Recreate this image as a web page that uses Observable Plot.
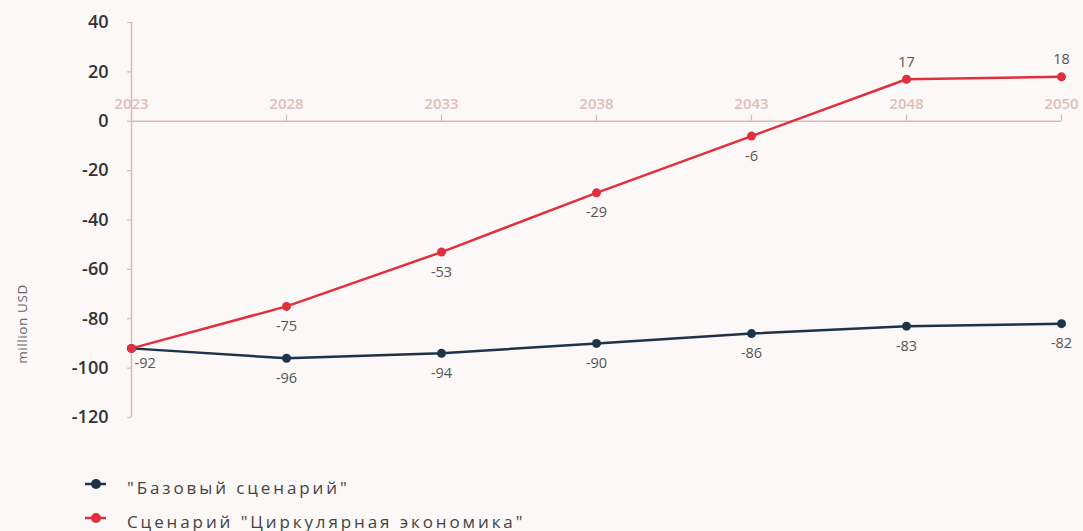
<!DOCTYPE html>
<html>
<head>
<meta charset="utf-8">
<script src="https://cdn.jsdelivr.net/npm/d3@7"></script>
<script src="https://cdn.jsdelivr.net/npm/@observablehq/plot@0.6"></script>
<style>
  html, body { margin: 0; padding: 0; background: #fcf8f7; }
  #chart { width: 1083px; position: relative; }
  .ylabel { position: absolute; left: 22px; top: 324px; transform: translate(-50%, -50%) rotate(-90deg); font-family: "Open Sans", sans-serif; font-size: 13.5px; letter-spacing: 0.6px; color: #666; white-space: nowrap; }
  .legend { font-family: "Open Sans", sans-serif; font-size: 17px; color: #444; letter-spacing: 2.9px; padding-top: 21px; }
  .legend .item { position: relative; height: 34px; }
  .legend svg { position: absolute; left: 84px; top: 7px; }
  .legend span { position: absolute; left: 127px; top: 5px; line-height: 24px; }
</style>
</head>
<body>
<div id="chart"><div class="ylabel">million USD</div></div>
<div class="legend" id="legend"></div>
<script>
const years = ["2023", "2028", "2033", "2038", "2043", "2048", "2050"];
const baseValues = [-92, -96, -94, -90, -86, -83, -82];
const circularValues = [-92, -75, -53, -29, -6, 17, 18];
const seriesNames = ["\"Базовый сценарий\"", "Сценарий \"Циркулярная экономика\""];
const seriesColors = ["#1d3349", "#e0303f"];
const yTicks = [40, 20, 0, -20, -40, -60, -80, -100, -120];

const data = [];
years.forEach((y, i) => {
  data.push({year: y, value: baseValues[i], series: seriesNames[0], k: 0, i});
  data.push({year: y, value: circularValues[i], series: seriesNames[1], k: 1, i});
});

const firstLabel = data.filter(d => d.i === 0 && d.k === 0);
const belowLabels = data.filter(d => d.i > 0 && d.value < 0);
const aboveLabels = data.filter(d => d.i > 0 && d.value >= 0);

const axisColor = "#d9bab2";
const x0 = () => years[0];

const plot = Plot.plot({
  width: 1083,
  height: 450,
  marginLeft: 131,
  marginRight: 22,
  marginTop: 22,
  marginBottom: 33,
  style: {background: "transparent", fontFamily: "Open Sans, sans-serif"},
  x: {type: "point", domain: years, padding: 0, axis: null},
  y: {domain: [-120, 40], axis: null},
  color: {domain: seriesNames, range: seriesColors},
  marks: [
    Plot.ruleY([0], {stroke: axisColor, strokeWidth: 1.5}),
    Plot.ruleX([years[0]], {x: d => d, stroke: axisColor, strokeWidth: 1.5}),
    Plot.ruleX(years, {x: d => d, y1: 0, y2: 0, insetBottom: 6, stroke: axisColor, strokeWidth: 1.2}),
    Plot.text(years, {x: d => d, y: 0, dy: -17, text: d => d, fill: "#dcbfb7", fontSize: 15, fontWeight: 600}),
    Plot.ruleY(yTicks, {y: d => d, x1: x0, x2: x0, insetLeft: -4, stroke: axisColor, strokeWidth: 1.2}),
    Plot.text(yTicks, {y: d => d, x: x0, dx: -23, text: d => String(d), textAnchor: "end", fill: "#333", fontSize: 18, fontWeight: 600}),
    Plot.line(data, {x: "year", y: "value", stroke: "series", z: "series", strokeWidth: 2.5}),
    Plot.dot(data, {x: "year", y: "value", fill: "series", r: 4.5}),
    Plot.text(belowLabels, {x: "year", y: "value", text: d => String(d.value), dy: 20, fill: "#555", fontSize: 14.5}),
    Plot.text(aboveLabels, {x: "year", y: "value", text: d => String(d.value), dy: -17, fill: "#555", fontSize: 14.5}),
    Plot.text(firstLabel, {x: "year", y: "value", text: d => String(d.value), dx: 3, dy: 15, textAnchor: "start", fill: "#555", fontSize: 14.5})
  ]
});
document.getElementById("chart").appendChild(plot);

const legend = document.getElementById("legend");
seriesNames.forEach((name, k) => {
  const item = document.createElement("div");
  item.className = "item";
  item.innerHTML = `<svg width="24" height="12"><line x1="1" y1="6" x2="22" y2="6" stroke="${seriesColors[k]}" stroke-width="2.5"/><circle cx="12" cy="6" r="5" fill="${seriesColors[k]}"/></svg><span></span>`;
  item.querySelector("span").textContent = name;
  legend.appendChild(item);
});
</script>
</body>
</html>
